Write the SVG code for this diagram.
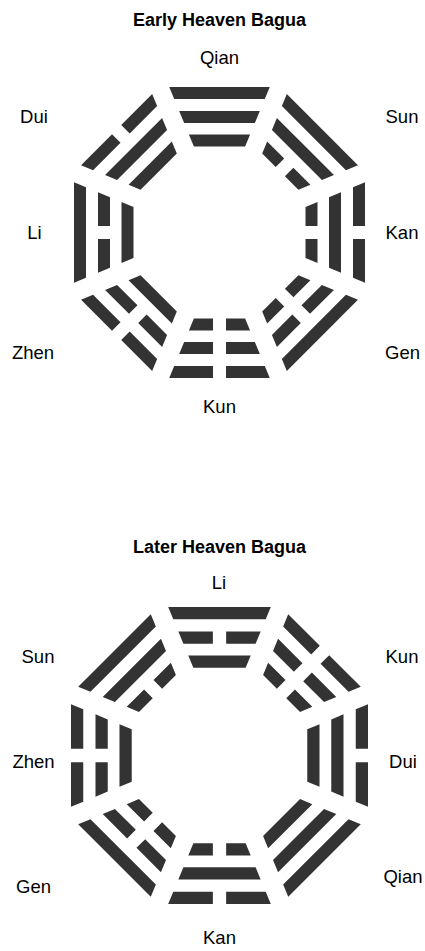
<svg xmlns="http://www.w3.org/2000/svg" xmlns:xlink="http://www.w3.org/1999/xlink" width="425" height="951" viewBox="0 0 425 951">
<style>
.bar{fill:#333333}
.title{font-family:"Liberation Sans",Arial,sans-serif;font-size:18px;font-weight:bold;fill:#000;text-anchor:middle}
.lbl{font-family:"Liberation Sans",Arial,sans-serif;font-size:18.5px;fill:#000;text-anchor:middle}
</style>
<defs>
<path id="o1" class="bar" d="M-50.27,-145.5 H50.27 L45.30,-133.5 H-45.30 Z"/>
<path id="o0" class="bar" d="M-50.27,-145.5 H-6.5 V-133.5 H-45.30 Z M6.5,-145.5 H50.27 L45.30,-133.5 H6.5 Z"/>
<path id="m1" class="bar" d="M-40.33,-121.5 H40.33 L35.36,-109.5 H-35.36 Z"/>
<path id="m0" class="bar" d="M-40.33,-121.5 H-6.5 V-109.5 H-35.36 Z M6.5,-121.5 H40.33 L35.36,-109.5 H6.5 Z"/>
<path id="i1" class="bar" d="M-30.59,-98 H30.59 L25.62,-86 H-25.62 Z"/>
<path id="i0" class="bar" d="M-30.59,-98 H-6.5 V-86 H-25.62 Z M6.5,-98 H30.59 L25.62,-86 H6.5 Z"/>
</defs>
<rect width="425" height="951" fill="#ffffff"/>

<g id="early-bagua">
<text class="title" x="219.5" y="26">Early Heaven Bagua</text>
<g transform="translate(219.5,232.5)">
<g id="early-qian" transform="rotate(0)"><use href="#i1"/><use href="#m1"/><use href="#o1"/></g>
<g id="early-sun" transform="rotate(45)"><use href="#i0"/><use href="#m1"/><use href="#o1"/></g>
<g id="early-kan" transform="rotate(90)"><use href="#i0"/><use href="#m1"/><use href="#o0"/></g>
<g id="early-gen" transform="rotate(135)"><use href="#i0"/><use href="#m0"/><use href="#o1"/></g>
<g id="early-kun" transform="rotate(180)"><use href="#i0"/><use href="#m0"/><use href="#o0"/></g>
<g id="early-zhen" transform="rotate(225)"><use href="#i1"/><use href="#m0"/><use href="#o0"/></g>
<g id="early-li" transform="rotate(270)"><use href="#i1"/><use href="#m0"/><use href="#o1"/></g>
<g id="early-dui" transform="rotate(315)"><use href="#i1"/><use href="#m1"/><use href="#o0"/></g>
</g>
<text class="lbl" x="219.5" y="64">Qian</text>
<text class="lbl" x="402" y="123">Sun</text>
<text class="lbl" x="402" y="239">Kan</text>
<text class="lbl" x="402.5" y="359">Gen</text>
<text class="lbl" x="219.5" y="413">Kun</text>
<text class="lbl" x="33" y="359">Zhen</text>
<text class="lbl" x="34.5" y="239">Li</text>
<text class="lbl" x="34" y="123">Dui</text>
</g>

<g id="later-bagua">
<text class="title" x="219.5" y="552.5">Later Heaven Bagua</text>
<g transform="translate(219.5,755.5) scale(1.0206)">
<g id="later-li" transform="rotate(0)"><use href="#i1"/><use href="#m0"/><use href="#o1"/></g>
<g id="later-kun" transform="rotate(45)"><use href="#i0"/><use href="#m0"/><use href="#o0"/></g>
<g id="later-dui" transform="rotate(90)"><use href="#i1"/><use href="#m1"/><use href="#o0"/></g>
<g id="later-qian" transform="rotate(135)"><use href="#i1"/><use href="#m1"/><use href="#o1"/></g>
<g id="later-kan" transform="rotate(180)"><use href="#i0"/><use href="#m1"/><use href="#o0"/></g>
<g id="later-gen" transform="rotate(225)"><use href="#i0"/><use href="#m0"/><use href="#o1"/></g>
<g id="later-zhen" transform="rotate(270)"><use href="#i1"/><use href="#m0"/><use href="#o0"/></g>
<g id="later-sun" transform="rotate(315)"><use href="#i0"/><use href="#m1"/><use href="#o1"/></g>
</g>
<text class="lbl" x="219" y="589">Li</text>
<text class="lbl" x="402" y="663">Kun</text>
<text class="lbl" x="403" y="767.5">Dui</text>
<text class="lbl" x="403" y="883">Qian</text>
<text class="lbl" x="219.5" y="944">Kan</text>
<text class="lbl" x="33.5" y="892.5">Gen</text>
<text class="lbl" x="33.5" y="767.5">Zhen</text>
<text class="lbl" x="38" y="663">Sun</text>
</g>
</svg>
